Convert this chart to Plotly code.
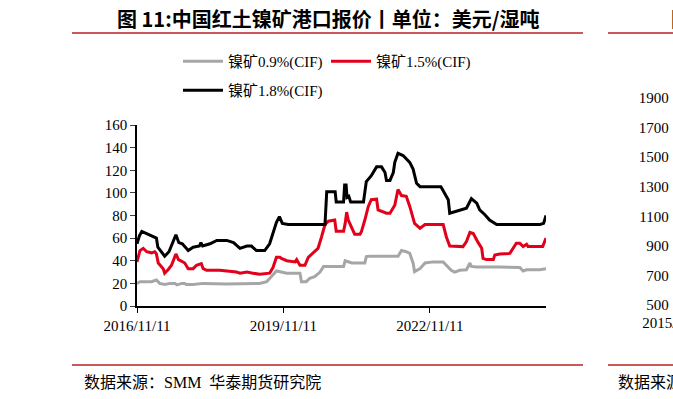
import plotly.graph_objects as go

# ---------------- data ----------------
black_dates = ["2016-11-11","2016-11-29","2016-12-17","2017-01-23","2017-03-17","2017-04-05","2017-04-16",
    "2017-06-06","2017-07-08","2017-08-15","2017-08-29","2017-09-20","2017-10-16","2017-11-29","2018-01-05",
    "2018-02-21","2018-03-04","2018-03-17","2018-05-11","2018-07-01","2018-09-13","2018-11-03","2018-12-21",
    "2019-02-11","2019-03-17","2019-04-23","2019-06-24","2019-07-31","2019-08-25","2019-09-20","2019-10-12",
    "2019-11-03","2019-12-17","2020-09-17","2020-09-30","2020-12-02","2020-12-10","2021-02-03","2021-02-11",
    "2021-02-22","2021-03-01","2021-03-14","2021-03-28","2021-07-02","2021-07-23","2021-08-28","2021-10-08",
    "2021-11-14","2021-12-10","2021-12-21","2022-01-16","2022-02-10","2022-02-21","2022-03-17","2022-04-24",
    "2022-06-13","2022-07-08","2022-08-03","2022-08-29","2023-02-01","2023-03-28","2023-04-08","2023-08-11",
    "2023-09-17","2023-10-27","2023-11-18","2023-12-27","2024-01-31","2024-03-24",
    "2025-02-11","2025-03-10","2025-03-28"]
black_values = [55,62,66,64,61,60,52,44,48,60,63,56,55,49,52,53,56,53,55,58,58,56,51,53,53,49,49,55,64,74,79,
    73,72,72,101,101,92,92,107,107,96,97,92,92,110,115,123,123,118,111,111,118,127,135,133,127,121,108.5,105.5,
    105.5,94,82,86.5,95,91,85,80.7,76,72,72,73,80]

red_dates = ["2016-11-11","2016-12-03","2016-12-28","2017-01-23","2017-02-28","2017-03-24","2017-04-05",
    "2017-04-19","2017-05-26","2017-06-06","2017-07-01","2017-07-27","2017-08-29","2017-09-17","2017-10-12",
    "2017-11-03","2017-11-29","2018-01-05","2018-01-30","2018-03-07","2018-03-21","2018-04-16","2018-07-23",
    "2018-09-13","2018-11-25","2018-12-21","2019-02-11","2019-03-28","2019-05-18","2019-07-31","2019-08-25",
    "2019-09-20","2019-10-16","2019-10-27","2019-12-06","2020-02-07","2020-02-18","2020-03-14","2020-04-20",
    "2020-05-15","2020-06-21","2020-07-27","2020-08-22","2020-09-17","2020-10-12","2020-11-29","2020-12-10",
    "2021-02-03","2021-02-15","2021-02-26","2021-03-10","2021-04-16","2021-04-27","2021-06-06","2021-06-17",
    "2021-07-12","2021-08-07","2021-08-29","2021-10-08","2021-10-19","2021-12-21","2022-01-16","2022-02-21",
    "2022-03-17","2022-04-12","2022-05-18","2022-06-13","2022-07-19","2022-08-29","2022-10-05","2023-02-18",
    "2023-03-14","2023-04-08","2023-07-16","2023-08-11","2023-09-06","2023-10-01","2023-11-07","2023-12-03",
    "2023-12-13","2024-01-08","2024-02-28","2024-03-10","2024-04-16","2024-07-01","2024-08-18","2024-09-13",
    "2024-10-08","2024-11-03","2024-11-14","2025-03-03","2025-03-28"]
red_values = [39,49,51,48,47,48,46,38,33,29,32,36,46,41,39.5,38,33,33,36,37.5,33,31.5,31.5,31,30,29,30,29,28,
    29,34,43,43,42,40,39,41,36,36,43,47,51,61,72,75,76,66,66,73,83,76,67,63.5,63.5,66,76,88,94,94.4,85,82,82,
    89,103,97.6,97,88,73,68.7,72,72,61,53,52.5,57,65,64,56,51,42,41,41,45,46,46.5,55.5,55.5,52.5,54.5,52.5,
    52.5,60]

gray_dates = ["2016-11-11","2016-12-03","2017-02-28","2017-04-05","2017-04-30","2017-06-06","2017-07-16",
    "2017-08-22","2017-09-05","2017-10-12","2017-11-03","2017-11-14","2018-01-05","2018-03-21","2018-09-13",
    "2019-05-18","2019-07-09","2019-08-15","2019-09-20","2019-10-27","2019-12-06","2020-03-14","2020-03-25",
    "2020-04-30","2020-05-26","2020-07-01","2020-08-11","2020-09-06","2021-02-03","2021-02-15","2021-03-21",
    "2021-04-05","2021-07-12","2021-07-23","2021-08-18","2022-03-17","2022-04-12","2022-05-18","2022-06-13",
    "2022-07-08","2022-07-19","2022-08-29","2022-10-05","2022-12-06","2023-02-18","2023-03-14","2023-04-19",
    "2023-05-15","2023-06-21","2023-08-11","2023-09-06","2023-09-17","2023-10-27","2024-04-16","2024-09-13",
    "2024-10-08","2024-11-03","2025-02-11","2025-03-28"]
gray_values = [20,21.5,21.5,23,20,19,20,20,18.7,20,20,19,19,20,19.5,20,21.5,26,31,30,29,29,21.5,21.5,24.5,26,
    30,35,35,40,39,38,38,43.7,44,44,49,48,46.5,38,30.4,33,38,39,39,36,31.6,30,31.6,32,38,35,34.5,34.5,34,31,
    32,32,33]

series_names = ["镍矿0.9%(CIF)", "镍矿1.5%(CIF)", "镍矿1.8%(CIF)"]
x_tick_vals = ["2016-11-11", "2019-11-11", "2022-11-11"]
x_tick_text = ["2016/11/11", "2019/11/11", "2022/11/11"]
y_tick_vals = [0, 20, 40, 60, 80, 100, 120, 140, 160]

# neighbouring (cropped) chart on the right
right_y_ticks = [500, 700, 900, 1100, 1300, 1500, 1700, 1900]
right_x_tick = ["2015-11-11"]
right_x_text = ["2015/11/11"]

title_text = "图 11:中国红土镍矿港口报价丨单位：美元/湿吨"
source_text = "数据来源：SMM  华泰期货研究院"

# ---------------- figure ----------------
W, H = 673, 399
L, R, T, B = 137, 0, 98, 93
pw = W - L - R
ph = H - T - B

serif = "Liberation Serif, Times New Roman, Noto Sans CJK SC"
sans = "Noto Sans CJK SC, Noto Sans"

fig = go.Figure()
fig.add_trace(go.Scatter(x=gray_dates, y=gray_values, name=series_names[0], mode="lines",
                         line=dict(color="#A6A6A6", width=3), legend="legend"))
fig.add_trace(go.Scatter(x=red_dates, y=red_values, name=series_names[1], mode="lines",
                         line=dict(color="#E2001A", width=3), legend="legend"))
fig.add_trace(go.Scatter(x=black_dates, y=black_values, name=series_names[2], mode="lines",
                         line=dict(color="#000000", width=3), legend="legend2"))
# invisible trace to hold the neighbour chart's axes
fig.add_trace(go.Scatter(x=right_x_tick, y=[right_y_ticks[0]], mode="lines", showlegend=False,
                         xaxis="x2", yaxis="y2", line=dict(width=0), hoverinfo="skip"))

main_right = 546
fig.update_layout(
    width=W, height=H,
    margin=dict(l=L, r=R, t=T, b=B, autoexpand=False),
    paper_bgcolor="white", plot_bgcolor="white",
    xaxis=dict(domain=[0, (main_right - L) / pw], type="date",
               range=["2016-11-11", "2025-03-28"],
               tickvals=x_tick_vals, ticktext=x_tick_text,
               showline=True, linecolor="black", linewidth=1.5,
               ticks="outside", ticklen=5, tickcolor="black", tickwidth=1,
               showgrid=False, zeroline=False,
               tickfont=dict(family=serif, size=15, color="black")),
    yaxis=dict(domain=[0, (306 - 125) / ph], range=[0, 160],
               tickvals=y_tick_vals,
               showline=True, linecolor="black", linewidth=1.5,
               ticks="outside", ticklen=5, tickcolor="#404040", tickwidth=1,
               showgrid=False, zeroline=False,
               tickfont=dict(family=serif, size=15, color="black")),
    xaxis2=dict(domain=[0.994, 1], type="date", anchor="y2",
                range=["2015-11-11", "2016-01-01"],
                tickvals=right_x_tick, ticktext=right_x_text,
                showline=False, ticks="", showgrid=False, zeroline=False,
                ticklabelshift=6, ticklabelstandoff=7, ticklabeloverflow="allow",
                tickfont=dict(family=serif, size=15, color="black")),
    yaxis2=dict(domain=[(306 - 305) / ph, 1], range=[500, 1900], anchor="x2",
                tickvals=right_y_ticks, showline=False, ticks="", showgrid=False, zeroline=False,
                tickfont=dict(family=serif, size=15, color="black")),
    legend=dict(orientation="h", x=(178 - L) / pw, xanchor="left", y=(306 - 45) / ph, yanchor="top",
                font=dict(family=serif, size=15, color="black"), bgcolor="rgba(0,0,0,0)",
                itemwidth=40, entrywidth=93, entrywidthmode="pixels"),
    legend2=dict(orientation="h", x=(178 - L) / pw, xanchor="left", y=(306 - 74) / ph, yanchor="top",
                 font=dict(family=serif, size=15, color="black"), bgcolor="rgba(0,0,0,0)",
                 itemwidth=40),
    showlegend=True,
)

# titles, source and decorative rules
fig.add_annotation(text="<b>" + title_text + "</b>", xref="paper", yref="paper",
                   x=(328 - L) / pw, y=(306 - 18) / ph, xanchor="center", yanchor="middle",
                   showarrow=False, font=dict(family=sans, size=20, color="black"))
fig.add_annotation(text="<b>图 12:</b>", xref="paper", yref="paper",
                   x=(669 - L) / pw, y=(306 - 18) / ph, xanchor="left", yanchor="middle",
                   showarrow=False, font=dict(family=sans, size=20, color="black"))
fig.add_annotation(text=source_text, xref="paper", yref="paper",
                   x=(82 - L) / pw, y=(306 - 382) / ph, xanchor="left", yanchor="middle",
                   showarrow=False, font=dict(family=serif, size=16, color="black"))
fig.add_annotation(text=source_text, xref="paper", yref="paper",
                   x=(616 - L) / pw, y=(306 - 382) / ph, xanchor="left", yanchor="middle",
                   showarrow=False, font=dict(family=serif, size=16, color="black"))

rule_color = "#C9595A"
for y_px in (33, 365):
    for x0, x1 in ((72, 583), (608, 673)):
        fig.add_shape(type="line", xref="paper", yref="paper",
                      x0=(x0 - L) / pw, x1=(x1 - L) / pw,
                      y0=(306 - y_px) / ph, y1=(306 - y_px) / ph,
                      line=dict(color=rule_color, width=2))

fig.write_html("out.html", config={"displayModeBar": False},
               post_script="document.body.style.margin='0';document.body.style.overflow='hidden';")
